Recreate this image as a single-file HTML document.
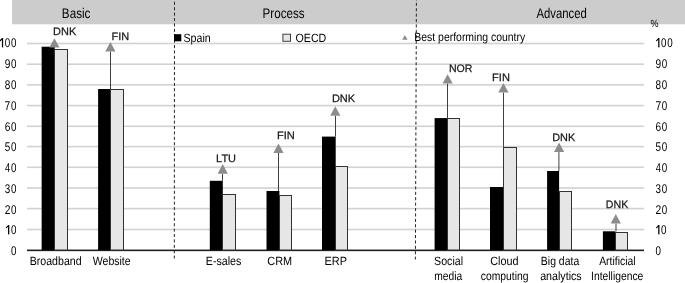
<!DOCTYPE html>
<html><head><meta charset="utf-8"><style>
html,body{margin:0;padding:0;background:#fff;}
body{width:685px;height:283px;overflow:hidden;}
svg{display:block;font-family:"Liberation Sans",sans-serif;will-change:transform;text-rendering:geometricPrecision;}
</style></head><body>
<svg width="685" height="283" viewBox="0 0 685 283">
<rect x="12" y="0" width="673" height="24" fill="#cccccc"/>
<rect x="12" y="24" width="673" height="1" fill="#f0f0f0"/>
<text transform="translate(61.84,17.80) scale(0.8344,1)" font-size="14" fill="#000">Basic</text>
<text transform="translate(262.55,17.80) scale(0.8300,1)" font-size="14" fill="#000">Process</text>
<text transform="translate(536.38,17.80) scale(0.8085,1)" font-size="14" fill="#000">Advanced</text>
<rect x="27" y="42.70" width="617" height="1.6" fill="#d2d2d2"/>
<rect x="27" y="63.40" width="617" height="1.6" fill="#d2d2d2"/>
<rect x="27" y="84.10" width="617" height="1.6" fill="#d2d2d2"/>
<rect x="27" y="104.80" width="617" height="1.6" fill="#d2d2d2"/>
<rect x="27" y="125.50" width="617" height="1.6" fill="#d2d2d2"/>
<rect x="27" y="145.80" width="617" height="1.6" fill="#d2d2d2"/>
<rect x="27" y="166.50" width="617" height="1.6" fill="#d2d2d2"/>
<rect x="27" y="187.20" width="617" height="1.6" fill="#d2d2d2"/>
<rect x="27" y="207.80" width="617" height="1.6" fill="#d2d2d2"/>
<rect x="27" y="228.70" width="617" height="1.6" fill="#d2d2d2"/>
<rect x="27" y="249" width="617" height="1" fill="#999"/>
<rect x="27" y="250" width="617" height="1" fill="#1e1e1e"/>
<rect x="27" y="251" width="617" height="1" fill="#dcdcdc"/>
<line x1="174.5" y1="0" x2="174.3" y2="258.5" stroke="#262626" stroke-width="1" stroke-dasharray="3.1,2.3" stroke-dashoffset="3.6"/>
<line x1="416.4" y1="0" x2="415.4" y2="259.5" stroke="#262626" stroke-width="1" stroke-dasharray="3.1,2.3" stroke-dashoffset="2.6"/>
<rect x="1.90" y="38.20" width="1.25" height="9.20" fill="#000"/><path d="M1.90,38.20 L3.15,38.20 L2.20,39.80 L-0.30,41.60 L-0.30,40.40 Z" fill="#000"/>
<text transform="translate(4.77,47.40) scale(0.7787,1)" font-size="12.6" fill="#000">0</text>
<text transform="translate(10.92,47.40) scale(0.7787,1)" font-size="12.6" fill="#000">0</text>
<rect x="658.20" y="38.20" width="1.25" height="9.20" fill="#000"/><path d="M658.20,38.20 L659.45,38.20 L658.50,39.80 L656.00,41.60 L656.00,40.40 Z" fill="#000"/>
<text transform="translate(661.07,47.40) scale(0.7787,1)" font-size="12.6" fill="#000">0</text>
<text transform="translate(667.22,47.40) scale(0.7787,1)" font-size="12.6" fill="#000">0</text>
<text transform="translate(4.68,68.18) scale(0.8056,1)" font-size="12.6" fill="#000">9</text>
<text transform="translate(10.92,68.18) scale(0.7787,1)" font-size="12.6" fill="#000">0</text>
<text transform="translate(655.53,68.18) scale(0.8056,1)" font-size="12.6" fill="#000">9</text>
<text transform="translate(661.77,68.18) scale(0.7787,1)" font-size="12.6" fill="#000">0</text>
<text transform="translate(4.72,88.96) scale(0.7937,1)" font-size="12.6" fill="#000">8</text>
<text transform="translate(10.92,88.96) scale(0.7787,1)" font-size="12.6" fill="#000">0</text>
<text transform="translate(655.57,88.96) scale(0.7937,1)" font-size="12.6" fill="#000">8</text>
<text transform="translate(661.77,88.96) scale(0.7787,1)" font-size="12.6" fill="#000">0</text>
<text transform="translate(4.62,109.74) scale(0.8198,1)" font-size="12.6" fill="#000">7</text>
<text transform="translate(10.92,109.74) scale(0.7787,1)" font-size="12.6" fill="#000">0</text>
<text transform="translate(655.47,109.74) scale(0.8198,1)" font-size="12.6" fill="#000">7</text>
<text transform="translate(661.77,109.74) scale(0.7787,1)" font-size="12.6" fill="#000">0</text>
<text transform="translate(4.64,130.52) scale(0.8056,1)" font-size="12.6" fill="#000">6</text>
<text transform="translate(10.92,130.52) scale(0.7787,1)" font-size="12.6" fill="#000">0</text>
<text transform="translate(655.49,130.52) scale(0.8056,1)" font-size="12.6" fill="#000">6</text>
<text transform="translate(661.77,130.52) scale(0.7787,1)" font-size="12.6" fill="#000">0</text>
<text transform="translate(4.75,151.30) scale(0.7853,1)" font-size="12.6" fill="#000">5</text>
<text transform="translate(10.92,151.30) scale(0.7787,1)" font-size="12.6" fill="#000">0</text>
<text transform="translate(655.60,151.30) scale(0.7853,1)" font-size="12.6" fill="#000">5</text>
<text transform="translate(661.77,151.30) scale(0.7787,1)" font-size="12.6" fill="#000">0</text>
<text transform="translate(4.95,172.08) scale(0.7386,1)" font-size="12.6" fill="#000">4</text>
<text transform="translate(10.92,172.08) scale(0.7787,1)" font-size="12.6" fill="#000">0</text>
<text transform="translate(655.80,172.08) scale(0.7386,1)" font-size="12.6" fill="#000">4</text>
<text transform="translate(661.77,172.08) scale(0.7787,1)" font-size="12.6" fill="#000">0</text>
<text transform="translate(4.77,192.86) scale(0.7853,1)" font-size="12.6" fill="#000">3</text>
<text transform="translate(10.92,192.86) scale(0.7787,1)" font-size="12.6" fill="#000">0</text>
<text transform="translate(655.62,192.86) scale(0.7853,1)" font-size="12.6" fill="#000">3</text>
<text transform="translate(661.77,192.86) scale(0.7787,1)" font-size="12.6" fill="#000">0</text>
<text transform="translate(4.63,213.64) scale(0.8180,1)" font-size="12.6" fill="#000">2</text>
<text transform="translate(10.92,213.64) scale(0.7787,1)" font-size="12.6" fill="#000">0</text>
<text transform="translate(655.48,213.64) scale(0.8180,1)" font-size="12.6" fill="#000">2</text>
<text transform="translate(661.77,213.64) scale(0.7787,1)" font-size="12.6" fill="#000">0</text>
<rect x="8.05" y="225.22" width="1.25" height="9.20" fill="#000"/><path d="M8.05,225.22 L9.30,225.22 L8.35,226.82 L5.85,228.62 L5.85,227.42 Z" fill="#000"/>
<text transform="translate(10.92,234.42) scale(0.7787,1)" font-size="12.6" fill="#000">0</text>
<rect x="658.20" y="225.22" width="1.25" height="9.20" fill="#000"/><path d="M658.20,225.22 L659.45,225.22 L658.50,226.82 L656.00,228.62 L656.00,227.42 Z" fill="#000"/>
<text transform="translate(661.07,234.42) scale(0.7787,1)" font-size="12.6" fill="#000">0</text>
<text transform="translate(10.92,255.20) scale(0.7787,1)" font-size="12.6" fill="#000">0</text>
<text transform="translate(655.62,255.20) scale(0.7787,1)" font-size="12.6" fill="#000">0</text>
<text transform="translate(650.38,26.70) scale(0.8524,1)" font-size="10.6" fill="#000">%</text>
<rect x="41.65" y="46.7" width="13.05" height="203.30" fill="#000"/>
<rect x="54.50" y="49.50" width="13.00" height="200.50" fill="#e6e6e6" stroke="#333333" stroke-width="1"/>
<path d="M54.40,38.30 L59.50,47.60 L49.30,47.60 Z" fill="#8c8c8c"/>
<text transform="translate(53.10,35.30) scale(1.0140,1)" font-size="10.8" fill="#1a1a1a" stroke="#1a1a1a" stroke-width="0.25">DNK</text>
<rect x="98.1" y="89.0" width="12.40" height="161.00" fill="#000"/>
<rect x="110.50" y="89.50" width="13.00" height="160.50" fill="#e6e6e6" stroke="#333333" stroke-width="1"/>
<line x1="110.50" y1="51.60" x2="110.50" y2="89.00" stroke="#404040" stroke-width="1"/>
<path d="M110.40,41.90 L115.50,51.60 L105.30,51.60 Z" fill="#8c8c8c"/>
<text transform="translate(111.60,39.60) scale(1.0167,1)" font-size="10.8" fill="#1a1a1a" stroke="#1a1a1a" stroke-width="0.25">FIN</text>
<rect x="209.8" y="180.8" width="13.00" height="69.20" fill="#000"/>
<rect x="222.50" y="194.50" width="13.00" height="55.50" fill="#e6e6e6" stroke="#333333" stroke-width="1"/>
<line x1="222.50" y1="173.80" x2="222.50" y2="180.80" stroke="#404040" stroke-width="1"/>
<path d="M222.70,164.10 L227.80,173.80 L217.60,173.80 Z" fill="#8c8c8c"/>
<text transform="translate(216.10,161.70) scale(1.0170,1)" font-size="10.8" fill="#1a1a1a" stroke="#1a1a1a" stroke-width="0.25">LTU</text>
<rect x="266.5" y="191" width="12.90" height="59.00" fill="#000"/>
<rect x="279.50" y="195.50" width="12.00" height="54.50" fill="#e6e6e6" stroke="#333333" stroke-width="1"/>
<line x1="278.50" y1="153.00" x2="278.50" y2="191.00" stroke="#404040" stroke-width="1"/>
<path d="M278.50,143.50 L283.60,153.00 L273.40,153.00 Z" fill="#8c8c8c"/>
<text transform="translate(276.99,138.60) scale(1.0295,1)" font-size="10.8" fill="#1a1a1a" stroke="#1a1a1a" stroke-width="0.25">FIN</text>
<rect x="322" y="136.6" width="13.70" height="113.40" fill="#000"/>
<rect x="335.50" y="166.50" width="12.00" height="83.50" fill="#e6e6e6" stroke="#333333" stroke-width="1"/>
<line x1="335.50" y1="115.80" x2="335.50" y2="136.60" stroke="#404040" stroke-width="1"/>
<path d="M335.30,106.20 L340.40,115.80 L330.20,115.80 Z" fill="#8c8c8c"/>
<text transform="translate(331.89,102.10) scale(1.0232,1)" font-size="10.8" fill="#1a1a1a" stroke="#1a1a1a" stroke-width="0.25">DNK</text>
<rect x="434.6" y="118.1" width="12.60" height="131.90" fill="#000"/>
<rect x="447.50" y="118.50" width="12.00" height="131.50" fill="#e6e6e6" stroke="#333333" stroke-width="1"/>
<line x1="447.50" y1="83.50" x2="447.50" y2="118.10" stroke="#404040" stroke-width="1"/>
<path d="M447.60,74.30 L452.70,83.50 L442.50,83.50 Z" fill="#8c8c8c"/>
<text transform="translate(448.93,71.80) scale(0.9816,1)" font-size="10.8" fill="#1a1a1a" stroke="#1a1a1a" stroke-width="0.25">NOR</text>
<rect x="490" y="187" width="13.00" height="63.00" fill="#000"/>
<rect x="503.50" y="147.50" width="13.00" height="102.50" fill="#e6e6e6" stroke="#333333" stroke-width="1"/>
<line x1="503.50" y1="92.60" x2="503.50" y2="146.80" stroke="#404040" stroke-width="1"/>
<path d="M503.40,83.10 L508.50,92.60 L498.30,92.60 Z" fill="#8c8c8c"/>
<text transform="translate(492.09,80.60) scale(1.0231,1)" font-size="10.8" fill="#1a1a1a" stroke="#1a1a1a" stroke-width="0.25">FIN</text>
<rect x="547.1" y="171" width="12.00" height="79.00" fill="#000"/>
<rect x="559.50" y="191.50" width="12.00" height="58.50" fill="#e6e6e6" stroke="#333333" stroke-width="1"/>
<line x1="558.90" y1="152.10" x2="558.90" y2="171.00" stroke="#404040" stroke-width="1"/>
<path d="M559.10,142.50 L564.20,152.10 L554.00,152.10 Z" fill="#8c8c8c"/>
<text transform="translate(552.21,141.20) scale(1.0094,1)" font-size="10.8" fill="#1a1a1a" stroke="#1a1a1a" stroke-width="0.25">DNK</text>
<rect x="602.9" y="231.3" width="12.50" height="18.70" fill="#000"/>
<rect x="615.50" y="232.50" width="12.00" height="17.50" fill="#e6e6e6" stroke="#333333" stroke-width="1"/>
<line x1="616.00" y1="223.50" x2="616.00" y2="231.30" stroke="#404040" stroke-width="1"/>
<path d="M615.80,214.00 L620.90,223.50 L610.70,223.50 Z" fill="#8c8c8c"/>
<text transform="translate(605.83,208.40) scale(0.9819,1)" font-size="10.8" fill="#1a1a1a" stroke="#1a1a1a" stroke-width="0.25">DNK</text>
<rect x="174" y="34.2" width="7.3" height="7.1" fill="#000"/>
<text transform="translate(183.42,41.50) scale(0.8885,1)" font-size="12" fill="#000">Spain</text>
<rect x="282.9" y="34.2" width="7.6" height="7.1" fill="#e6e6e6" stroke="#404040" stroke-width="1"/>
<text transform="translate(295.50,41.80) scale(0.8885,1)" font-size="12" fill="#000">OECD</text>
<path d="M404.9,35 L407.6,39.7 L402.2,39.7 Z" fill="#8c8c8c"/>
<text transform="translate(414.24,41.30) scale(0.8712,1)" font-size="12" fill="#000">Best performing country</text>
<text transform="translate(29.73,265.30) scale(0.8830,1)" font-size="12" fill="#000">Broadband</text>
<text transform="translate(92.76,265.30) scale(0.8789,1)" font-size="12" fill="#000">Website</text>
<text transform="translate(205.83,265.30) scale(0.8885,1)" font-size="12" fill="#000">E-sales</text>
<text transform="translate(267.35,265.30) scale(0.9091,1)" font-size="12" fill="#000">CRM</text>
<text transform="translate(324.50,265.30) scale(0.9105,1)" font-size="12" fill="#000">ERP</text>
<text transform="translate(434.12,265.30) scale(0.8837,1)" font-size="12" fill="#000">Social</text>
<text transform="translate(434.32,279.80) scale(0.8556,1)" font-size="12" fill="#000">media</text>
<text transform="translate(490.26,265.30) scale(0.9004,1)" font-size="12" fill="#000">Cloud</text>
<text transform="translate(480.77,279.80) scale(0.8614,1)" font-size="12" fill="#000">computing</text>
<text transform="translate(540.84,265.30) scale(0.8710,1)" font-size="12" fill="#000">Big data</text>
<text transform="translate(540.15,279.80) scale(0.8895,1)" font-size="12" fill="#000">analytics</text>
<text transform="translate(599.18,265.30) scale(0.8668,1)" font-size="12" fill="#000">Artificial</text>
<text transform="translate(591.05,279.80) scale(0.8616,1)" font-size="12" fill="#000">Intelligence</text>
</svg>
</body></html>
